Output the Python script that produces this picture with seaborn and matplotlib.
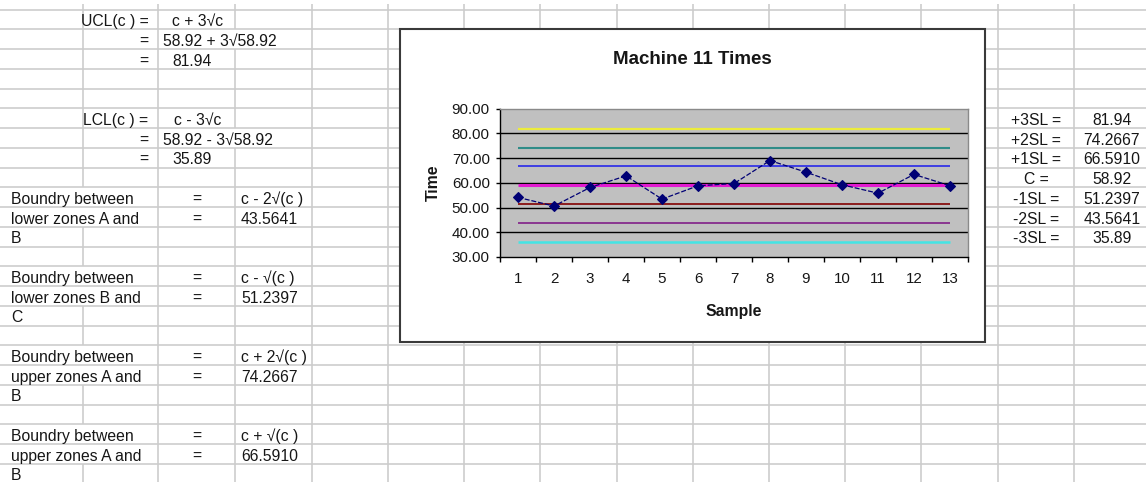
import numpy as np
import matplotlib
matplotlib.use("Agg")
import matplotlib.pyplot as plt
import seaborn as sns
from matplotlib.collections import LineCollection
from matplotlib.patches import Rectangle

# ------------------------------------------------------------------ data
samples = list(range(1, 14))
times = [54.1, 50.6, 58.1, 62.8, 53.4, 58.8, 59.7, 69.0, 64.3, 59.2, 55.8, 63.4, 58.8]

limit_names = ["+3SL =", "+2SL =", "+1SL =", "C =", "-1SL =", "-2SL =", "-3SL ="]
limit_text = ["81.94", "74.2667", "66.5910", "58.92", "51.2397", "43.5641", "35.89"]
limit_values = [81.94, 74.2667, 66.5910, 58.92, 51.2397, 43.5641, 35.89]
limit_colors = ["#ecec3c", "#2f8c88", "#3434e6", "#e21ad0", "#8c1c1c", "#8a3690", "#44e4e4"]

y_ticks = [30, 40, 50, 60, 70, 80, 90]
y_tick_labels = ["30.00", "40.00", "50.00", "60.00", "70.00", "80.00", "90.00"]
x_tick_labels = [str(s) for s in samples]
chart_title = "Machine 11 Times"
x_label = "Sample"
y_label = "Time"

formula_labels = ["UCL(c ) =", "LCL(c ) ="]
formula_exprs = ["c + 3\u221ac", "c - 3\u221ac"]
formula_subst = ["58.92 + 3\u221a58.92", "58.92 - 3\u221a58.92"]
formula_results = ["81.94", "35.89"]

boundary_line1 = "Boundry between"
boundary_line2 = ["lower zones A and", "lower zones B and", "upper zones A and", "upper zones A and"]
boundary_line3 = ["B", "C", "B", "B"]
boundary_formulas = ["c - 2\u221a(c )", "c - \u221a(c )", "c + 2\u221a(c )", "c + \u221a(c )"]
boundary_values = ["43.5641", "51.2397", "74.2667", "66.5910"]

# ------------------------------------------------------------------ layout
W, H = 1146, 482
ROW0, ROWH = 9.7, 19.75
N_ROWS = 24
COL_LINES = [83, 158, 235, 312, 388, 464, 540, 617, 693, 769, 845, 921, 998, 1074]
formula_start_rows = [0, 5]
boundary_start_rows = [9, 13, 17, 21]
limit_start_row = 5

sns.set_style("white")
plt.rcParams["font.family"] = ["Liberation Sans", "DejaVu Sans"]
TXT = "#161616"
CELL_FS = 11.3

fig = plt.figure(figsize=(W / 100, H / 100), dpi=100)
bg = fig.add_axes([0, 0, 1, 1], zorder=0)
bg.set_xlim(0, W)
bg.set_ylim(H, 0)
bg.axis("off")


def row_top(k):
    return ROW0 + ROWH * k


def base(k):
    return row_top(k + 1) - 3.4


# hidden vertical segments (text overflowing into next cell)
hidden = set()
for r in formula_start_rows:
    hidden.add((r + 1, 235))
for r in boundary_start_rows:
    hidden.add((r, 83))
    hidden.add((r + 1, 83))

GRID_C = "#cbcbcb"
GRID_LW = 1.15
hsegs = [[(0, row_top(k)), (W, row_top(k))] for k in range(N_ROWS + 1) if row_top(k) <= H]
vsegs = []
for x in COL_LINES:
    vsegs.append([(x, 4), (x, row_top(0))])
    for k in range(N_ROWS):
        if (k, x) in hidden:
            continue
        vsegs.append([(x, row_top(k)), (x, min(row_top(k + 1), H))])
bg.add_collection(LineCollection(hsegs, colors=GRID_C, linewidths=GRID_LW, zorder=1))
bg.add_collection(LineCollection(vsegs, colors=GRID_C, linewidths=GRID_LW, zorder=1))

# formula blocks
for i, r in enumerate(formula_start_rows):
    bg.text(148.5, base(r), formula_labels[i], ha="right", va="baseline", fontsize=CELL_FS, color=TXT)
    bg.text(197.5, base(r), formula_exprs[i], ha="center", va="baseline", fontsize=CELL_FS, color=TXT)
    bg.text(148.5, base(r + 1), "=", ha="right", va="baseline", fontsize=CELL_FS, color=TXT)
    bg.text(163, base(r + 1), formula_subst[i], ha="left", va="baseline", fontsize=CELL_FS, color=TXT)
    bg.text(148.5, base(r + 2), "=", ha="right", va="baseline", fontsize=CELL_FS, color=TXT)
    bg.text(192.5, base(r + 2), formula_results[i], ha="center", va="baseline", fontsize=CELL_FS, color=TXT)

# boundary blocks
for i, r in enumerate(boundary_start_rows):
    bg.text(11, base(r), boundary_line1, ha="left", va="baseline", fontsize=CELL_FS, color=TXT)
    bg.text(11, base(r + 1), boundary_line2[i], ha="left", va="baseline", fontsize=CELL_FS, color=TXT)
    bg.text(11, base(r + 2), boundary_line3[i], ha="left", va="baseline", fontsize=CELL_FS, color=TXT)
    bg.text(197, base(r), "=", ha="center", va="baseline", fontsize=CELL_FS, color=TXT)
    bg.text(197, base(r + 1), "=", ha="center", va="baseline", fontsize=CELL_FS, color=TXT)
    bg.text(241, base(r), boundary_formulas[i], ha="left", va="baseline", fontsize=CELL_FS, color=TXT)
    bg.text(241, base(r + 1), boundary_values[i], ha="left", va="baseline", fontsize=CELL_FS, color=TXT)

# limit table on the right
for i, (nm, tv) in enumerate(zip(limit_names, limit_text)):
    r = limit_start_row + i
    bg.text(1036, base(r), nm, ha="center", va="baseline", fontsize=CELL_FS, color=TXT)
    bg.text(1112, base(r), tv, ha="center", va="baseline", fontsize=CELL_FS, color=TXT)

# chart box
bg.add_patch(Rectangle((400, 29.3), 585, 312.7, facecolor="white", edgecolor="#3a3a3a",
                       linewidth=1.5, zorder=3))
bg.text(692.5, 63.5, chart_title, ha="center", va="baseline", fontsize=13.5,
        fontweight="bold", color=TXT, zorder=5)

# ------------------------------------------------------------------ chart
PL, PR, PT, PB = 500, 968, 108.6, 257.0
ax = fig.add_axes([PL / W, 1 - PB / H, (PR - PL) / W, (PB - PT) / H], zorder=3)
ax.set_facecolor("#c0c0c0")

ax.hlines(limit_values, samples[0], samples[-1], colors=limit_colors,
          linewidths=[1.6, 1.5, 1.3, 2.2, 1.4, 1.4, 1.8], zorder=2)

sns.lineplot(x=samples, y=times, ax=ax, color="#000075", marker="D", markersize=5.4,
             markeredgecolor="#000075", markeredgewidth=0.8, linewidth=0.9,
             linestyle=(0, (4, 1.5)), zorder=4, legend=False)

ax.set_xlim(samples[0] - 0.5, samples[-1] + 0.5)
ax.set_ylim(y_ticks[0], y_ticks[-1])
ax.set_yticks(y_ticks)
ax.set_yticklabels(y_tick_labels)
ax.set_xticks(samples)
ax.set_xticklabels(x_tick_labels)
ax.set_xticks([s - 0.5 for s in samples] + [samples[-1] + 0.5], minor=True)

ax.yaxis.grid(True, color="black", linewidth=1.0)
ax.xaxis.grid(False)
for gl in (ax.get_ygridlines()[0], ax.get_ygridlines()[-1]):
    gl.set_visible(False)
ax.set_axisbelow(True)

for side in ("left", "bottom"):
    ax.spines[side].set_color("black")
    ax.spines[side].set_linewidth(1.0)
for side in ("top", "right"):
    ax.spines[side].set_color("#8a8a8a")
    ax.spines[side].set_linewidth(1.0)

ax.tick_params(axis="y", which="major", length=3, width=1.0, direction="out",
               color="black", pad=4.3, labelsize=10.9, labelcolor=TXT, left=True)
ax.tick_params(axis="x", which="major", length=0, pad=11, labelsize=10.9, labelcolor=TXT)
ax.tick_params(axis="x", which="minor", length=3.5, width=1.0, direction="out",
               color="black", bottom=True)

ax.set_xlabel(x_label, fontsize=11.3, fontweight="bold", color=TXT)
ax.xaxis.set_label_coords(0.5, -0.32)
ax.set_ylabel(y_label, fontsize=11.3, fontweight="bold", color=TXT)
ax.yaxis.set_label_coords(-0.126, 0.5)

fig.savefig("out.png", dpi=100)
